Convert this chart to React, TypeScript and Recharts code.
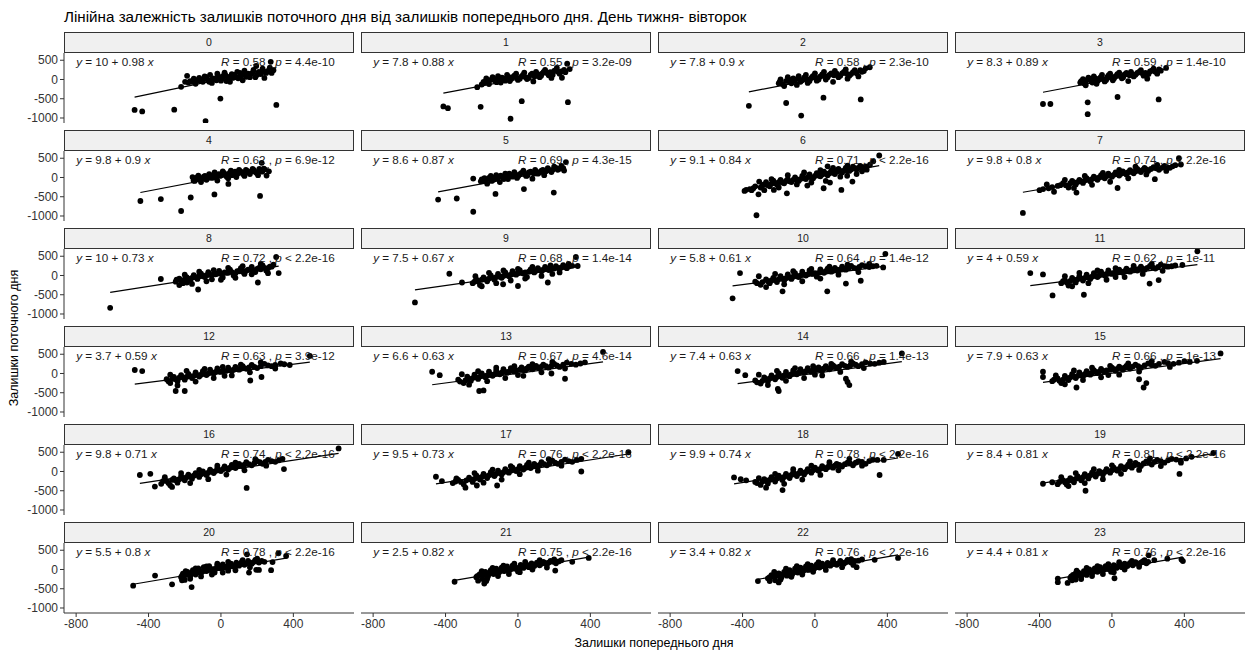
import { ScatterChart, Scatter, XAxis, YAxis, ReferenceLine } from "recharts";

// points per hour: [previous day balance, current day balance]
const h0 = [[-477,-790],[-435,-830],[-258,-785],[-85,-1080],[-3,-495],[306,-660],[-220,-190],[-198,-60],[-187,95],[275,460],[195,350],
  [-170,-40],[-150,20],[-140,-110],[-120,40],[-100,-60],[-90,80],[-70,-20],[-60,120],[-50,-90],[-30,30],[-20,150],[0,-30],[10,90],[20,180],[40,20],[50,-60],[60,140],[80,60],[90,200],[110,100],[120,-20],[130,230],[150,150],[160,60],[180,250],[200,120],[210,200],[230,280],[240,40],[250,170],[270,310],[290,240],
  [-180,-80],[-160,-60],[-135,-20],[-115,-30],[-95,10],[-80,60],[-65,-60],[-45,30],[-25,-20],[-10,60],[5,20],[25,110],[30,-40],[45,70],[65,40],[75,120],[95,30],[105,170],[125,120],[140,70],[165,140],[175,180],[190,60],[205,170],[220,140],[235,200],[260,220],[280,170]];
const h1 = [[-412,-700],[-387,-746],[-206,-710],[-41,-1019],[21,-564],[276,-590],[-225,-200],[272,412],[243,45],
  [-190,-60],[-175,30],[-160,-120],[-140,60],[-125,-30],[-110,90],[-95,-80],[-80,20],[-60,120],[-45,-40],[-30,60],[-10,150],[0,-10],[20,80],[35,180],[50,10],[70,120],[85,-50],[100,200],[120,60],[135,160],[150,250],[170,110],[185,40],[200,220],[215,300],[230,150],[255,250],[286,270],
  [-200,-130],[-185,-80],[-168,-40],[-150,-10],[-133,20],[-118,-70],[-103,30],[-88,50],[-70,-30],[-52,70],[-38,10],[-20,100],[-5,40],[10,20],[28,120],[42,60],[60,40],[78,150],[92,80],[110,140],[128,100],[142,200],[160,170],[178,190],[192,120],[208,240],[222,200],[240,210],[262,190]];
const h2 = [[-365,-683],[-159,-610],[-76,-937],[47,-473],[253,-519],[303,318],
  [-200,-100],[-190,0],[-170,-170],[-150,60],[-140,-60],[-120,30],[-100,-140],[-90,90],[-70,-20],[-50,120],[-40,-90],[-20,40],[0,160],[10,-30],[30,80],[50,200],[60,0],[80,120],[100,-60],[110,220],[130,60],[150,160],[170,260],[180,20],[200,140],[220,240],[240,80],[260,200],[280,290],
  [-195,-60],[-180,-120],[-160,-40],[-145,0],[-130,-100],[-110,-20],[-95,20],[-80,-60],[-60,50],[-45,10],[-30,-40],[-12,90],[5,50],[20,0],[40,130],[55,90],[70,60],[90,160],[105,110],[120,150],[140,100],[160,200],[175,150],[190,100],[210,190],[230,160],[250,240],[270,220]];
const h3 = [[-381,-637],[-340,-637],[-134,-592],[-134,-900],[31,-455],[258,-519],[299,300],
  [-175,-80],[-160,10],[-145,-150],[-130,50],[-115,-40],[-100,80],[-85,-110],[-70,20],[-55,120],[-40,-50],[-25,70],[-10,150],[5,-20],[20,90],[40,180],[55,30],[70,130],[90,-40],[105,200],[120,80],[140,170],[160,240],[175,100],[195,20],[210,210],[230,280],[250,150],[270,230],
  [-170,-40],[-155,-100],[-140,-20],[-122,0],[-108,-80],[-92,30],[-78,-30],[-62,60],[-48,10],[-32,-10],[-18,110],[-2,50],[12,30],[30,140],[48,90],[62,60],[80,170],[97,110],[113,140],[130,120],[150,200],[168,160],[185,170],[202,140],[220,230],[240,200],[260,260]];
const h4 = [[-445,-610],[-332,-560],[-220,-870],[-167,-520],[-36,-440],[216,-480],[41,-166],[-151,-79],[-157,10],[225,380],[237,228],[265,160],[252,50],
  [-140,-40],[-125,50],[-110,-120],[-95,20],[-80,-60],[-65,90],[-50,-10],[-35,130],[-20,-80],[-5,40],[10,160],[25,60],[40,-20],[55,180],[70,100],[85,10],[100,200],[115,130],[130,40],[145,170],[160,90],[175,220],[190,140],[205,60],[220,180],
  [-145,-90],[-132,0],[-118,-50],[-102,-30],[-88,40],[-72,-10],[-58,30],[-42,60],[-28,0],[-12,90],[2,60],[18,110],[32,20],[48,120],[62,60],[78,150],[92,100],[108,160],[122,90],[138,200],[152,130],[168,160],[182,190],[198,110],[212,220],[228,150],[240,210]];
const h5 = [[-441,-573],[-338,-546],[-247,-890],[-247,-27],[-124,-428],[33,-300],[198,-391],[265,400],
  [-205,-100],[-185,-20],[-170,-160],[-150,40],[-135,-60],[-120,60],[-100,-120],[-85,10],[-70,100],[-55,-40],[-40,60],[-20,140],[-5,-10],[10,90],[30,180],[45,40],[60,130],[80,-30],[95,200],[110,100],[130,180],[145,60],[165,240],[185,140],[200,280],[220,200],[240,300],[255,180],
  [-200,-50],[-190,-90],[-175,-60],[-160,-10],[-145,-90],[-128,0],[-112,-30],[-95,50],[-78,-40],[-62,30],[-48,100],[-30,20],[-12,70],[2,40],[20,120],[38,90],[52,50],[70,150],[88,100],[102,150],[120,130],[138,200],[155,160],[175,190],[192,200],[210,250],[230,230],[250,240]];
const h6 = [[-389,-350],[-323,-981],[-312,-437],[-308,-105],[-227,-324],[-155,-411],[-42,-211],[48,-279],[83,-132],[146,-324],[207,-105],[178,45],[355,571],[304,334],[322,421],[286,203],[70,289],[124,184],
  [-360,-300],[-340,-280],[-290,-200],[-270,-120],[-250,-230],[-230,-80],[-210,-180],[-190,-60],[-170,-150],[-150,-40],[-130,-120],[-110,0],[-90,-90],[-70,40],[-50,-40],[-30,80],[-10,-20],[10,110],[30,30],[50,150],[70,60],[90,180],[110,90],[130,220],[150,130],[170,250],[190,170],[210,280],[230,210],[250,300],[270,240],
  [-380,-320],[-350,-330],[-330,-230],[-300,-260],[-280,-180],[-260,-200],[-240,-160],[-220,-150],[-200,-120],[-180,-130],[-160,-90],[-140,-100],[-120,-60],[-100,-50],[-80,-40],[-60,-20],[-40,10],[-20,0],[0,40],[20,50],[40,80],[60,100],[80,110],[100,120],[120,150],[140,170],[160,180],[180,190],[200,210],[220,240],[240,250],[260,270],[280,290],
  [-280,-330],[-240,-40],[-200,-260],[-150,60],[-100,-180],[-60,130],[-20,-130],[30,190],[60,-90],[100,250],[140,20],[180,310],[230,90],[260,160]];
const h7 = [[-492,-920],[-196,-391],[31,-273],[237,-45],[381,337],[370,500],
  [-400,-330],[-350,-280],[-300,-220],[-270,-150],[-240,-260],[-220,-90],[-200,-180],[-180,-60],[-160,-140],[-140,-20],[-120,-100],[-100,20],[-80,-60],[-60,60],[-40,-20],[-20,100],[0,20],[20,130],[40,50],[60,160],[80,80],[100,190],[120,110],[140,220],[160,140],[180,250],[200,170],[230,270],[260,200],[290,300],[320,250],[350,320],
  [-380,-300],[-330,-250],[-285,-200],[-255,-200],[-230,-150],[-210,-130],[-190,-120],[-170,-100],[-150,-80],[-130,-60],[-110,-40],[-90,-20],[-70,0],[-50,20],[-30,40],[-10,50],[10,70],[30,90],[50,100],[70,120],[90,140],[110,150],[130,160],[150,180],[170,200],[190,210],[215,220],[245,240],[275,250],[305,270],[335,290],
  [-360,-180],[-320,-370],[-260,-60],[-210,-270],[-150,40],[-110,-190],[-50,120],[-10,-110],[40,200],[90,-20],[130,280],[190,80],[250,330],[300,170]];
const h8 = [[-612,-840],[-332,-91],[-188,-182],[-126,-364],[204,-182],[319,64],[305,480],
  [-250,-160],[-230,-80],[-210,-200],[-190,-40],[-170,-130],[-150,10],[-130,-90],[-110,50],[-90,-40],[-70,90],[-50,-100],[-30,30],[-10,120],[10,-50],[30,70],[50,150],[70,0],[90,110],[110,190],[130,40],[150,150],[170,220],[190,90],[210,200],[230,260],[250,130],[270,230],[290,280],
  [-245,-110],[-220,-130],[-200,-100],[-180,-80],[-160,-60],[-140,-40],[-120,-20],[-100,-10],[-80,10],[-60,20],[-40,30],[-20,50],[0,40],[20,80],[40,70],[60,90],[80,60],[100,110],[120,100],[140,120],[160,150],[180,140],[200,170],[220,160],[240,200],[260,190],[280,230],
  [-230,-250],[-200,20],[-160,-220],[-120,100],[-80,-150],[-40,140],[0,-110],[40,200],[80,-60],[120,240],[170,30],[220,300],[260,60]];
const h9 = [[-569,-700],[-379,45],[-309,-182],[-82,-228],[0,-273],[165,-182],[330,246],[320,480],
  [-250,-200],[-230,-100],[-210,-250],[-190,-50],[-170,-150],[-150,0],[-130,-110],[-110,40],[-90,-60],[-70,80],[-50,-20],[-30,110],[-10,20],[10,140],[30,50],[50,-40],[70,160],[90,80],[110,190],[130,110],[150,220],[170,140],[190,40],[210,240],[230,160],[250,270],[270,190],[300,250],
  [-240,-160],[-220,-150],[-200,-110],[-180,-100],[-160,-80],[-140,-60],[-120,-40],[-100,-30],[-80,-10],[-60,10],[-40,20],[-20,40],[0,60],[20,70],[40,80],[60,100],[80,110],[100,120],[120,140],[140,150],[160,170],[180,160],[200,180],[220,200],[240,210],[260,220],[285,240],
  [-235,-20],[-200,-280],[-160,70],[-120,-200],[-80,130],[-40,-130],[0,170],[40,-80],[80,220],[130,-10],[180,260],[230,80],[280,300]];
const h10 = [[-455,-592],[-414,64],[-179,-410],[68,-410],[171,-209],[253,-137],[377,209],[389,560],
  [-330,-160],[-300,-240],[-270,-100],[-250,-200],[-230,-60],[-210,-170],[-190,-20],[-170,-130],[-150,30],[-130,-90],[-110,60],[-90,-40],[-70,100],[-50,0],[-30,130],[-10,40],[10,-30],[30,160],[50,70],[70,180],[90,100],[110,200],[130,130],[150,230],[170,150],[200,250],[230,180],[260,270],[300,220],[340,250],
  [-320,-200],[-290,-170],[-260,-150],[-240,-130],[-220,-120],[-200,-100],[-180,-80],[-160,-70],[-140,-50],[-120,-30],[-100,-20],[-80,0],[-60,20],[-40,30],[-20,50],[0,60],[20,70],[40,90],[60,110],[80,120],[100,130],[120,150],[140,160],[160,180],[185,190],[215,200],[245,220],[280,240],[320,240],
  [-310,-20],[-270,-300],[-220,40],[-170,-230],[-120,110],[-70,-150],[-20,170],[30,-80],[80,230],[130,20],[180,280],[240,90],[300,300]];
const h11 = [[-451,64],[-381,27],[-328,-519],[-155,-500],[208,-209],[258,-118],[389,273],[472,630],
  [-280,-200],[-260,-120],[-240,-260],[-220,-60],[-200,-180],[-180,-20],[-160,-130],[-140,20],[-120,-90],[-100,60],[-80,-40],[-60,100],[-40,0],[-20,130],[0,40],[20,-40],[40,150],[60,70],[80,180],[100,100],[120,200],[140,130],[160,230],[180,150],[210,250],[240,180],[270,280],[310,230],[350,260],
  [-270,-150],[-250,-180],[-230,-140],[-210,-110],[-190,-100],[-170,-80],[-150,-60],[-130,-50],[-110,-30],[-90,-10],[-70,0],[-50,30],[-30,40],[-10,60],[10,70],[30,80],[50,100],[70,110],[90,130],[110,140],[130,160],[150,170],[170,180],[195,200],[225,210],[255,220],[290,240],[330,240],
  [-260,-20],[-220,-280],[-180,70],[-130,-200],[-80,130],[-30,-110],[20,190],[70,-40],[120,250],[170,40],[220,300],[280,120]];
const h12 = [[-476,91],[-435,64],[-250,-455],[-200,-455],[162,-182],[224,-91],[491,455],
  [-300,-150],[-280,-250],[-260,-90],[-240,-200],[-220,-40],[-200,-160],[-180,-10],[-160,-120],[-140,30],[-120,-80],[-100,60],[-80,-40],[-60,100],[-40,0],[-20,130],[0,40],[20,-60],[40,150],[60,70],[80,170],[100,100],[120,190],[140,120],[170,220],[200,140],[240,250],[280,190],[330,260],[380,220],
  [-290,-200],[-270,-140],[-250,-150],[-230,-110],[-210,-100],[-190,-90],[-170,-70],[-150,-60],[-130,-40],[-110,-30],[-90,-10],[-70,0],[-50,20],[-30,40],[-10,50],[10,60],[30,70],[50,90],[70,100],[90,120],[110,130],[130,140],[155,160],[185,170],[220,190],[260,210],[300,220],[350,240],
  [-280,-30],[-240,-310],[-190,70],[-140,-210],[-90,120],[-40,-120],[10,170],[60,-50],[110,230],[160,30],[220,290],[300,130]];
const h13 = [[-474,45],[-432,-45],[-214,-455],[-190,-440],[185,0],[260,-137],[470,560],
  [-330,-160],[-300,-250],[-280,-80],[-260,-190],[-240,-30],[-220,-140],[-200,0],[-180,-100],[-160,50],[-140,-60],[-120,80],[-100,-20],[-80,110],[-60,20],[-40,140],[-20,50],[0,-40],[20,160],[40,80],[60,180],[80,110],[100,200],[120,130],[140,230],[170,150],[200,250],[230,170],[270,280],[320,230],[370,290],
  [-320,-210],[-290,-180],[-270,-140],[-250,-120],[-230,-100],[-210,-80],[-190,-60],[-170,-50],[-150,-30],[-130,-20],[-110,0],[-90,20],[-70,40],[-50,50],[-30,70],[-10,80],[10,100],[30,110],[50,130],[70,140],[90,150],[110,160],[130,180],[155,190],[185,200],[215,210],[250,230],[295,250],[345,260],
  [-310,-20],[-270,-290],[-220,60],[-170,-200],[-120,150],[-70,-120],[-20,190],[30,-60],[80,240],[130,30],[190,300],[260,130]];
const h14 = [[-427,64],[-385,-45],[-200,-455],[-205,-400],[171,-137],[180,-220],[190,-300],[480,520],
  [-330,-180],[-300,-260],[-280,-100],[-260,-210],[-240,-50],[-220,-150],[-200,0],[-180,-110],[-160,40],[-140,-70],[-120,80],[-100,-20],[-80,110],[-60,20],[-40,140],[-20,40],[0,-30],[20,160],[40,80],[60,190],[80,110],[100,210],[120,140],[150,240],[180,170],[210,260],[240,190],[280,290],[330,250],[380,300],
  [-320,-230],[-290,-190],[-270,-150],[-250,-130],[-230,-110],[-210,-90],[-190,-70],[-170,-50],[-150,-40],[-130,-20],[-110,0],[-90,20],[-70,40],[-50,60],[-30,70],[-10,90],[10,100],[30,110],[50,130],[70,140],[90,150],[110,170],[135,180],[165,200],[195,210],[225,230],[260,240],[305,260],[355,280],
  [-310,-30],[-260,-300],[-210,70],[-160,-190],[-110,140],[-60,-120],[-10,190],[40,-50],[90,250],[140,40],[200,310],[270,140]];
const h15 = [[-381,45],[-381,-91],[-196,-364],[175,-364],[190,-250],[150,-150],[600,520],
  [-330,-200],[-300,-130],[-280,-250],[-260,-60],[-240,-170],[-220,-20],[-200,-120],[-180,30],[-160,-80],[-140,60],[-120,-30],[-100,90],[-80,10],[-60,120],[-40,40],[-20,-40],[0,150],[20,70],[40,180],[60,100],[80,200],[100,130],[130,230],[160,150],[200,260],[240,200],[290,300],[340,250],[400,320],[470,330],
  [-320,-160],[-290,-190],[-270,-160],[-250,-120],[-230,-100],[-210,-80],[-190,-60],[-170,-40],[-150,-20],[-130,0],[-110,20],[-90,40],[-70,50],[-50,70],[-30,80],[-10,100],[10,110],[30,120],[50,140],[70,150],[90,160],[115,180],[145,190],[180,210],[220,220],[260,250],[310,270],[370,280],[430,300],
  [-310,-50],[-260,-280],[-210,80],[-160,-170],[-110,150],[-60,-100],[-10,200],[40,-30],[90,260],[150,50],[220,320],[320,170]];
const h16 = [[-448,-91],[-390,-60],[-365,-391],[142,-428],[348,64],[650,600],
  [-330,-320],[-300,-250],[-280,-360],[-260,-180],[-240,-290],[-220,-120],[-200,-230],[-180,-80],[-160,-190],[-140,-40],[-120,-140],[-100,0],[-80,-90],[-60,50],[-40,-40],[-20,90],[0,10],[20,130],[40,50],[60,170],[80,90],[100,200],[120,130],[140,240],[170,160],[200,270],[230,200],[260,300],[300,250],[340,330],
  [-320,-250],[-290,-300],[-270,-220],[-250,-230],[-230,-200],[-210,-170],[-190,-150],[-170,-130],[-150,-110],[-130,-90],[-110,-70],[-90,-50],[-70,-30],[-50,0],[-30,10],[-10,30],[10,60],[30,80],[50,100],[70,120],[90,140],[110,160],[130,180],[155,190],[185,220],[215,240],[245,250],[280,270],[320,290],
  [-310,-150],[-270,-400],[-220,-40],[-170,-300],[-120,40],[-70,-200],[-20,150],[30,-80],[80,230],[130,30],[190,320],[250,150]];
const h17 = [[-453,-137],[-420,-250],[-227,-364],[-115,-364],[350,0],[610,500],
  [-360,-300],[-330,-220],[-300,-330],[-270,-160],[-250,-270],[-230,-100],[-210,-210],[-190,-60],[-170,-170],[-150,-20],[-130,-120],[-110,20],[-90,-80],[-70,60],[-50,-30],[-30,100],[-10,10],[10,140],[30,50],[50,170],[70,90],[90,200],[110,120],[130,240],[160,160],[190,280],[220,200],[260,310],[300,250],[350,330],
  [-345,-260],[-315,-270],[-285,-230],[-260,-210],[-240,-190],[-220,-160],[-200,-140],[-180,-120],[-160,-100],[-140,-80],[-120,-60],[-100,-40],[-80,-20],[-60,0],[-40,20],[-20,40],[0,60],[20,80],[40,100],[60,120],[80,140],[100,150],[120,170],[145,190],[175,210],[205,230],[240,250],[280,270],[325,300],
  [-340,-180],[-290,-420],[-240,-40],[-190,-290],[-140,50],[-90,-210],[-40,140],[10,-70],[60,230],[110,20],[170,320],[240,150]];
const h18 = [[-447,-155],[-410,-200],[-380,-230],[-179,-482],[357,-91],[459,455],
  [-330,-270],[-300,-350],[-280,-200],[-260,-310],[-240,-150],[-220,-260],[-200,-110],[-180,-220],[-160,-60],[-140,-170],[-120,-20],[-100,-120],[-80,20],[-60,-80],[-40,60],[-20,-30],[0,100],[20,20],[40,140],[60,60],[80,170],[100,100],[120,200],[150,130],[180,230],[210,160],[240,270],[280,200],[320,310],[380,300],
  [-320,-300],[-290,-260],[-270,-240],[-250,-220],[-230,-200],[-210,-180],[-190,-160],[-170,-140],[-150,-120],[-130,-90],[-110,-70],[-90,-50],[-70,-30],[-50,-10],[-30,10],[-10,30],[10,50],[30,70],[50,90],[70,110],[90,130],[110,150],[135,170],[165,190],[195,210],[225,230],[260,250],[300,270],[345,300],
  [-310,-170],[-270,-420],[-220,-60],[-170,-320],[-120,60],[-70,-210],[-20,150],[30,-90],[80,240],[130,30],[190,330],[260,150]];
const h19 = [[-381,-318],[-330,-280],[-146,-500],[373,-64],[381,228],[560,480],
  [-300,-330],[-270,-230],[-250,-340],[-230,-170],[-210,-280],[-190,-120],[-170,-230],[-150,-70],[-130,-180],[-110,-30],[-90,-130],[-70,10],[-50,-80],[-30,60],[-10,-30],[10,100],[30,20],[50,140],[70,60],[90,180],[110,100],[130,220],[160,140],[190,260],[220,180],[250,300],[290,230],[330,330],[380,280],[440,380],
  [-290,-270],[-260,-280],[-240,-240],[-220,-220],[-200,-190],[-180,-170],[-160,-150],[-140,-120],[-120,-100],[-100,-80],[-80,-60],[-60,-30],[-40,-10],[-20,10],[0,30],[20,50],[40,70],[60,100],[80,120],[100,140],[120,160],[145,180],[175,210],[205,230],[235,250],[270,270],[310,290],[355,310],[410,340],
  [-280,-150],[-240,-380],[-200,-40],[-150,-300],[-100,60],[-50,-200],[0,160],[50,-60],[100,260],[150,40],[210,340],[270,140]];
const h20 = [[-485,-421],[-364,-158],[-270,-386],[-162,-456],[155,-79],[195,-8],[210,-10],[277,-18],[285,192],[360,350],[317,421],[144,395],
  [-220,-200],[-210,-110],[-200,-270],[-185,-60],[-170,-180],[-155,-20],[-140,-130],[-125,30],[-110,-90],[-95,60],[-80,-40],[-65,90],[-50,0],[-35,-80],[-20,110],[-5,30],[10,130],[25,50],[40,-30],[55,150],[70,80],[85,180],[100,100],[115,200],[130,120],[150,220],[170,150],[190,250],[210,180],[240,200],
  [-215,-160],[-205,-190],[-192,-130],[-178,-120],[-162,-100],[-148,-90],[-132,-80],[-118,-60],[-102,-50],[-88,-30],[-72,-20],[-58,0],[-42,10],[-28,20],[-12,40],[2,30],[18,60],[32,80],[48,70],[62,100],[78,110],[92,130],[108,140],[122,150],[140,160],[160,170],[180,190],[200,210],[225,220],
  [-215,-280],[-195,-40],[-170,-240],[-140,30],[-110,-180],[-80,80],[-50,-130],[-20,150],[10,-80],[40,200],[80,-20],[120,240],[160,60],[200,280]];
const h21 = [[-350,-318],[-186,-364],[-175,-300],[206,-27],[391,300],[300,200],
  [-230,-200],[-210,-120],[-195,-250],[-180,-60],[-165,-170],[-150,-20],[-135,-120],[-120,20],[-105,-80],[-90,50],[-75,-40],[-60,80],[-45,-10],[-30,100],[-15,20],[0,-50],[15,120],[30,40],[45,140],[60,60],[75,160],[90,90],[105,180],[120,110],[140,200],[160,130],[180,220],[210,160],[240,240],
  [-225,-170],[-215,-150],[-200,-140],[-188,-130],[-172,-110],[-158,-100],[-142,-80],[-128,-70],[-112,-60],[-98,-40],[-82,-30],[-68,-10],[-52,0],[-38,10],[-22,30],[-8,40],[8,50],[22,60],[38,80],[52,90],[68,110],[82,120],[98,130],[112,140],[130,150],[150,170],[170,180],[195,200],[225,210],
  [-220,-290],[-200,-40],[-170,-240],[-140,40],[-110,-170],[-80,100],[-50,-120],[-20,150],[10,-70],[40,200],[80,0],[120,240],[160,50],[200,260]];
const h22 = [[-315,-300],[-200,-337],[212,118],[459,300],[230,60],[330,250],
  [-260,-230],[-240,-150],[-220,-280],[-200,-100],[-185,-200],[-170,-60],[-155,-160],[-140,-20],[-125,-120],[-110,20],[-95,-80],[-80,50],[-65,-40],[-50,80],[-35,-10],[-20,100],[-5,20],[10,130],[25,50],[40,150],[55,70],[70,170],[85,100],[100,200],[120,120],[140,220],[160,150],[180,250],[200,180],[260,260],
  [-250,-200],[-232,-190],[-212,-160],[-195,-150],[-178,-130],[-162,-120],[-148,-100],[-132,-90],[-118,-70],[-102,-60],[-88,-40],[-72,-30],[-58,-10],[-42,0],[-28,20],[-12,30],[2,50],[18,60],[32,80],[48,90],[62,110],[78,120],[92,140],[108,150],[128,160],[150,180],[170,190],[190,210],[220,220],[240,230],
  [-250,-300],[-225,-60],[-190,-260],[-160,20],[-130,-190],[-100,90],[-70,-130],[-40,140],[-10,-60],[20,190],[60,-10],[100,240],[150,60],[200,270]];
const h23 = [[-299,-237],[-299,-330],[-245,-350],[-202,-105],[14,-228],[203,368],[234,245],[306,281],[392,218],[384,260],
  [-230,-220],[-215,-140],[-200,-260],[-185,-80],[-170,-190],[-155,-40],[-140,-140],[-125,0],[-110,-100],[-95,30],[-80,-60],[-65,60],[-50,-20],[-35,90],[-20,10],[-5,-60],[10,110],[25,40],[40,130],[55,60],[70,150],[85,90],[100,170],[115,110],[130,190],[150,130],[170,210],[190,160],
  [-225,-180],[-208,-170],[-192,-150],[-178,-130],[-162,-120],[-148,-100],[-132,-80],[-118,-70],[-102,-60],[-88,-40],[-72,-30],[-58,-10],[-42,0],[-28,20],[-12,30],[2,40],[18,60],[32,70],[48,90],[62,100],[78,110],[92,130],[108,140],[122,150],[140,160],[160,180],[180,190],[200,200],
  [-220,-280],[-195,-30],[-170,-250],[-140,40],[-110,-170],[-80,90],[-50,-120],[-20,140],[10,-70],[40,190],[70,0],[110,220],[150,70],[180,240]];

const hours = [h0,h1,h2,h3,h4,h5,h6,h7,h8,h9,h10,h11,h12,h13,h14,h15,h16,h17,h18,h19,h20,h21,h22,h23];

const intercepts = [10,7.8,7.8,8.3,9.8,8.6,9.1,9.8,10,7.5,5.8,4,3.7,6.6,7.4,7.9,9.8,9.5,9.9,8.4,5.5,2.5,3.4,4.4];
const slopes = [0.98,0.88,0.9,0.89,0.9,0.87,0.84,0.8,0.73,0.67,0.61,0.59,0.59,0.63,0.63,0.63,0.71,0.73,0.74,0.81,0.8,0.82,0.82,0.81];
const rValues = ["0.58","0.55","0.58","0.59","0.62","0.69","0.71","0.74","0.72","0.68","0.64","0.62","0.63","0.67","0.66","0.66","0.74","0.76","0.78","0.81","0.78","0.75","0.76","0.76"];
const pLabels = ["= 4.4e-10","= 3.2e-09","= 2.3e-10","= 1.4e-10","= 6.9e-12","= 4.3e-15","< 2.2e-16","< 2.2e-16","< 2.2e-16","= 1.4e-14","= 1.4e-12","= 1e-11","= 3.9e-12","= 4.6e-14","= 1.4e-13","= 1e-13","< 2.2e-16","< 2.2e-16","< 2.2e-16","< 2.2e-16","< 2.2e-16","< 2.2e-16","< 2.2e-16","< 2.2e-16"];

const xTicks = [-800, -400, 0, 400];
const yTicks = [-1000, -500, 0, 500];

const FONT = "'Liberation Sans', Arial, sans-serif";
const PANEL_W = 290;
const PANEL_H = 70;
const STRIP_H = 21;
const COL_X = [64, 361, 658, 955];
const ROW_Y = [32, 130, 228, 326, 424, 522];
const Y_AXIS_W = 44;
const X_AXIS_H = 30;

const dot = (p: any) => <circle cx={p.cx} cy={p.cy} r={2.9} fill="#000" />;

function Panel({ i }: { i: number }) {
  const col = i % 4;
  const row = Math.floor(i / 4);
  const left = col === 0;
  const bottom = row === 5;
  const pts = hours[i].map(([x, y]) => ({ x, y }));
  const xs = hours[i].map((d) => d[0]);
  const x1 = Math.min(...xs);
  const x2 = Math.max(...xs);
  const a = intercepts[i];
  const b = slopes[i];
  const w = PANEL_W + (left ? Y_AXIS_W : 0);
  const h = PANEL_H + (bottom ? X_AXIS_H : 0);

  const eqShape = (p: any) => (
    <text x={p.cx} y={p.cy} dominantBaseline="central" fontSize={11.7} fill="#1a1a1a" fontFamily={FONT}>
      <tspan fontStyle="italic">y</tspan> = {a} + {b} <tspan fontStyle="italic">x</tspan>
    </text>
  );
  const rShape = (p: any) => (
    <text x={p.cx} y={p.cy} dominantBaseline="central" fontSize={11.7} fill="#1a1a1a" fontFamily={FONT}>
      <tspan fontStyle="italic">R</tspan> = {rValues[i]} , <tspan fontStyle="italic">p</tspan> {pLabels[i]}
    </text>
  );

  return (
    <div
      style={{
        position: "absolute",
        left: COL_X[col] - (left ? Y_AXIS_W : 0),
        top: ROW_Y[row] + STRIP_H,
      }}
    >
      <ScatterChart width={w} height={h} margin={{ top: 0, right: 0, bottom: 0, left: 0 }}>
        <XAxis
          type="number"
          dataKey="x"
          domain={[-867, 735]}
          ticks={xTicks}
          interval={0}
          hide={!bottom}
          height={X_AXIS_H}
          allowDataOverflow
          tickSize={4}
          tickMargin={2}
          stroke="#333"
          tick={{ fill: "#333", fontSize: 12, fontFamily: FONT }}
        />
        <YAxis
          type="number"
          dataKey="y"
          domain={[-1130, 688]}
          ticks={yTicks}
          interval={0}
          hide={!left}
          width={Y_AXIS_W}
          allowDataOverflow
          tickSize={4}
          tickMargin={2}
          stroke="#333"
          tick={{ fill: "#333", fontSize: 12, fontFamily: FONT }}
        />
        <Scatter data={pts} shape={dot} isAnimationActive={false} />
        <ReferenceLine
          segment={[
            { x: x1, y: a + b * x1 },
            { x: x2, y: a + b * x2 },
          ]}
          stroke="#000"
          strokeWidth={1.2}
        />
        <Scatter data={[{ x: -800, y: 470 }]} shape={eqShape} isAnimationActive={false} />
        <Scatter data={[{ x: 0, y: 470 }]} shape={rShape} isAnimationActive={false} />
      </ScatterChart>
    </div>
  );
}

export default function App() {
  return (
    <div
      style={{
        position: "absolute",
        left: 0,
        top: 0,
        width: 1251,
        height: 651,
        background: "#fff",
        fontFamily: FONT,
        overflow: "hidden",
      }}
    >
      <style>{".recharts-surface{overflow:visible}"}</style>
      <div style={{ position: "absolute", left: 64, top: 8, fontSize: 15.2, color: "#000", whiteSpace: "nowrap" }}>
        Лінійна залежність залишків поточного дня від залишків попереднього дня. День тижня- вівторок
      </div>
      {hours.map((_, i) => (
        <div
          key={"s" + i}
          style={{
            position: "absolute",
            left: COL_X[i % 4],
            top: ROW_Y[Math.floor(i / 4)],
            width: PANEL_W,
            height: STRIP_H,
            boxSizing: "border-box",
            border: "1px solid #333",
            background: "#f0f0f0",
            fontSize: 10.5,
            color: "#1a1a1a",
            textAlign: "center",
            lineHeight: STRIP_H - 2 + "px",
          }}
        >
          {i}
        </div>
      ))}
      {hours.map((_, i) => (
        <Panel key={"p" + i} i={i} />
      ))}
      <div
        style={{
          position: "absolute",
          left: 654,
          top: 643,
          transform: "translate(-50%, -50%)",
          fontSize: 12.5,
          color: "#000",
          whiteSpace: "nowrap",
        }}
      >
        Залишки попереднього дня
      </div>
      <div
        style={{
          position: "absolute",
          left: 14,
          top: 338,
          transform: "translate(-50%, -50%) rotate(-90deg)",
          fontSize: 12.5,
          color: "#000",
          whiteSpace: "nowrap",
        }}
      >
        Залишки поточного дня
      </div>
    </div>
  );
}
